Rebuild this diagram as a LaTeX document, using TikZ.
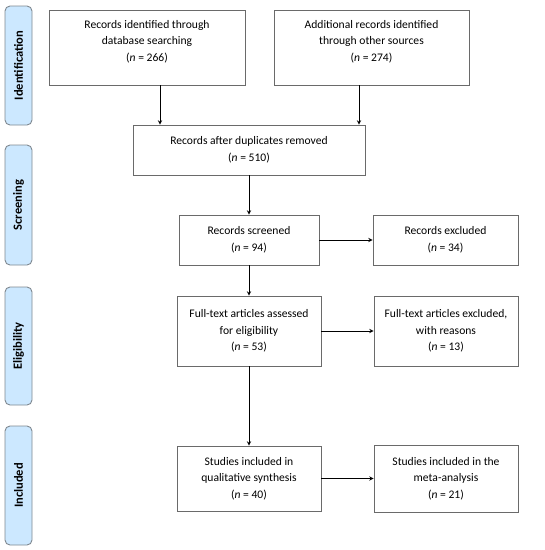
\documentclass[tikz,border=0pt]{standalone}
\usepackage{fontspec}
\setmainfont{Carlito}
\usetikzlibrary{arrows,positioning}
\definecolor{phasefill}{HTML}{CCE8FF}
\definecolor{phaseline}{HTML}{7F8890}
\definecolor{boxline}{HTML}{6A6A6A}
\tikzset{box/.style={draw=boxline, line width=0.9pt, align=center, inner sep=0pt, font=\fontsize{11.6}{16.6}\selectfont},
phase/.style={draw=phaseline, fill=phasefill, line width=0.9pt, rounded corners=5pt, rotate=90, minimum height=27pt, inner sep=0pt, font=\fontsize{12.5}{14}\selectfont\bfseries}}

\begin{document}
\begin{tikzpicture}[x=1pt, y=-1pt, >=stealth, line width=0.9pt, node distance=90pt]
\useasboundingbox (0,0) rectangle (545,550);
% phases
\node[phase, minimum width=119pt] (P1) at (18.5,65.5) {Identification};
\node[phase, minimum width=120pt] (P2) at (18.5,205) {Screening};
\node[phase, minimum width=118pt] (P3) at (18.5,346) {Eligibility};
\node[phase, minimum width=119pt] (P4) at (18.5,485.5) {Included};
% boxes
\node[box, minimum width=196pt, minimum height=75pt, text depth=13.5pt] (S1) at (147,47.5) {Records identified through\\database searching\\(\textit{n} = 266)};
\node[box, minimum width=195pt, minimum height=75pt, text depth=13.5pt][right of=S1, node distance=224.5pt] (S2) {Additional records identified\\through other sources\\(\textit{n} = 274)};
\node[box, minimum width=232pt, minimum height=50pt] (D) at (249,150) {Records after duplicates removed\\(\textit{n} = 510)};
\node[box, minimum width=140pt, minimum height=50pt][below of=D] (S) {Records screened\\(\textit{n} = 94)};
\node[box, minimum width=145pt, minimum height=50pt][right of=S, node distance=196.5pt] (X) {Records excluded\\(\textit{n} = 34)};
\node[box, minimum width=144pt, minimum height=70pt][below of=S, node distance=91pt] (E) {Full-text articles assessed\\for eligibility\\(\textit{n} = 53)};
\node[box, minimum width=144pt, minimum height=70pt][right of=E, node distance=197pt] (XE) {Full-text articles excluded,\\with reasons\\(\textit{n} = 13)};
\node[box, minimum width=144pt, minimum height=65pt][below of=E, node distance=147.5pt] (I) {Studies included in\\qualitative synthesis\\(\textit{n} = 40)};
\node[box, minimum width=144pt, minimum height=67pt][right of=I, node distance=197pt] (M) {Studies included in the\\meta-analysis\\(\textit{n} = 21)};
% arrows
\draw[->] ([xshift=13pt]S1.south) -- ([xshift=13pt]S1.south |- D.north);
\draw[->] ([xshift=-12.5pt]S2.south) -- ([xshift=-12.5pt]S2.south |- D.north);
\path[->] (D) edge (S)
	(S) edge (X)
	(S) edge (E)
	(E) edge (XE)
	(E) edge (I)
	(I) edge (M);
\end{tikzpicture}
\end{document}
